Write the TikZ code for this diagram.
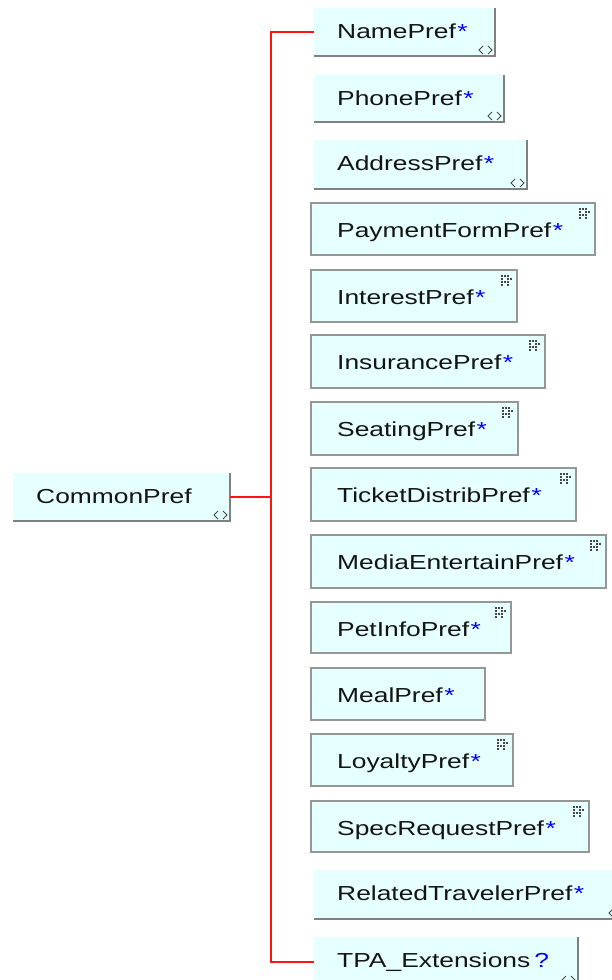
\documentclass[tikz,border=0pt]{standalone}
\usepackage{fontspec}
\setmainfont{Liberation Sans}[FakeStretch=1.3]
\definecolor{boxfill}{RGB}{230,255,255}
\definecolor{cgray}{RGB}{150,150,150}
\definecolor{sgray}{RGB}{128,128,128}
\definecolor{linkred}{RGB}{255,20,20}
\definecolor{starblue}{RGB}{0,0,255}
\definecolor{icongray}{RGB}{70,70,70}
\definecolor{txt}{RGB}{20,20,20}
\tikzset{
  box/.style={fill=boxfill, inner sep=0pt, outer sep=0pt},
  lbl/.style={anchor=base west, inner sep=0pt, text=txt, font=\fontsize{20.3}{24}\selectfont},
  sbord/.style={draw=sgray, line width=2pt},
  link/.style={draw=linkred, line width=2pt},
  icon/.style={draw=icongray, line width=0.9pt},
}
\newcommand\mksimple[7]{%
  \node[box, minimum width={(#4-#2)*1pt}, minimum height={(#5-#3)*1pt}] (#1) at ({(#2+#4)/2},{(#3+#5)/2}) {};
  \draw[sbord] (#1.north east) -- (#1.south east) -- (#1.south west);
  \node[lbl] (#1-t) at (#6,{#3+30}) {#7};
  \draw[icon, shift={(#1.south east)}] (-12,-10) -- (-16,-6) -- (-12,-2) (-7,-10) -- (-3,-6) -- (-7,-2);
}
\newcommand\gridicon[1]{%
  \begin{scope}[shift={(#1.north east)}]
    \foreach \gx/\gy in {-16/5,-13/5,-10/5,-16/8,-10/8,-7/8,-16/11,-13/11,-10/11,-16/14,-10/14}
      \fill[icongray] (\gx,\gy) rectangle ++(1.8,1.8);
  \end{scope}}
\newcommand\mkcomplex[6]{%
  \node[box, draw=cgray, line width=2pt, minimum width={(#4-#2)*1pt}, minimum height={(#5-#3)*1pt}] (#1) at ({(#2+#4)/2},{(#3+#5)/2}) {};
  \node[lbl] (#1-t) at (337,{#3+34}) {#6};
}
\newcommand\st{\hspace{1.5pt}\textcolor{starblue}{*}}
\begin{document}
\begin{tikzpicture}[x=1pt,y=-1pt]
\useasboundingbox (0,0) rectangle (612,980);
\clip (0,0) rectangle (612,980);

\mksimple{common}{13}{473}{230}{521}{36}{CommonPref}

\mksimple{name}{314}{8}{495}{56}{337}{NamePref\st}
\mksimple{phone}{314}{75}{504}{122}{337}{PhonePref\st}
\mksimple{address}{314}{140}{527}{189}{337}{AddressPref\st}
\mkcomplex{payment}{311}{203}{595}{255}{PaymentFormPref\st}
\gridicon{payment}
\mkcomplex{interest}{311}{270}{517}{322}{InterestPref\st}
\gridicon{interest}
\mkcomplex{insurance}{311}{335}{545}{388}{InsurancePref\st}
\gridicon{insurance}
\mkcomplex{seating}{311}{402}{518}{455}{SeatingPref\st}
\gridicon{seating}
\mkcomplex{ticket}{311}{468}{576}{521}{TicketDistribPref\st}
\gridicon{ticket}
\mkcomplex{media}{311}{535}{606}{588}{MediaEntertainPref\st}
\gridicon{media}
\mkcomplex{pet}{311}{602}{511}{653}{PetInfoPref\st}
\gridicon{pet}
\mkcomplex{meal}{311}{668}{485}{720}{MealPref\st}
\mkcomplex{loyalty}{311}{734}{513}{786}{LoyaltyPref\st}
\gridicon{loyalty}
\mkcomplex{spec}{311}{801}{589}{852}{SpecRequestPref\st}
\gridicon{spec}
\mksimple{related}{314}{870}{625}{919}{337}{RelatedTravelerPref\st}
\mksimple{tpa}{314}{937}{578}{986}{337}{TPA\_Extensions\hspace{4pt}\textcolor{starblue}{?}}

\coordinate (trunkTop) at (271,32);
\coordinate (trunkBot) at (271,961.5);
\draw[link] (name.west) -- (trunkTop) -- (trunkBot) -- (tpa.west);
\draw[link] (common.east) -- (common.east -| trunkTop);
\end{tikzpicture}
\end{document}
